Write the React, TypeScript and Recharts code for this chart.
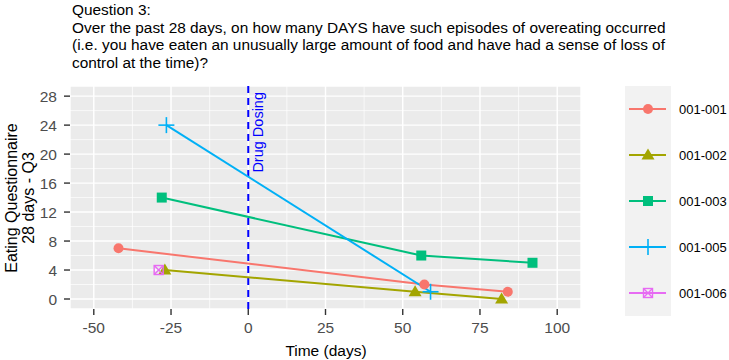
import React from 'react';
import { LineChart, Line, XAxis, YAxis, CartesianGrid, ReferenceLine } from 'recharts';

const titleLines = [
  'Question 3:',
  'Over the past 28 days, on how many DAYS have such episodes of overeating occurred',
  '(i.e. you have eaten an unusually large amount of food and have had a sense of loss of',
  'control at the time)?',
];
const yTitleLines = ['Eating Questionnaire', '28 days - Q3'];
const xTitle = 'Time (days)';
const dosingLabel = 'Drug Dosing';

const xTicks = [-50, -25, 0, 25, 50, 75, 100];
const xMinor = [-37.5, -12.5, 12.5, 37.5, 62.5, 87.5];
const yTicks = [0, 4, 8, 12, 16, 20, 24, 28];
const yMinor = [2, 6, 10, 14, 18, 22, 26];
const xDomain = [-57.7, 107.7];
const yDomain = [-1.38, 29.4];

const s001 = [{ x: -42, y: 7 }, { x: 57, y: 2 }, { x: 84, y: 1 }];
const s002 = [{ x: -27, y: 4 }, { x: 54, y: 1 }, { x: 82, y: 0 }];
const s003 = [{ x: -28, y: 14 }, { x: 56, y: 6 }, { x: 92, y: 5 }];
const s005 = [{ x: -26.5, y: 24 }, { x: 59, y: 1 }];
const s006 = [{ x: -29, y: 4 }];

const series = [
  { name: '001-001', data: s001, color: '#F8766D', shape: 'circle' },
  { name: '001-002', data: s002, color: '#A3A500', shape: 'triangle' },
  { name: '001-003', data: s003, color: '#00BF7D', shape: 'square' },
  { name: '001-005', data: s005, color: '#00B0F6', shape: 'plus' },
  { name: '001-006', data: s006, color: '#E76BF3', shape: 'squarecross' },
];

const FONT = '"Liberation Sans", Arial, sans-serif';

function Marker({ cx, cy, shape, color }: any) {
  if (cx == null || cy == null) return null;
  switch (shape) {
    case 'circle':
      return <circle cx={cx} cy={cy} r={5} fill={color} />;
    case 'triangle':
      return <polygon points={`${cx},${cy - 6.5} ${cx - 6.5},${cy + 4.5} ${cx + 6.5},${cy + 4.5}`} fill={color} />;
    case 'square':
      return <rect x={cx - 5} y={cy - 5} width={10} height={10} fill={color} />;
    case 'plus':
      return (
        <g stroke={color} strokeWidth={1.6}>
          <line x1={cx - 8} y1={cy} x2={cx + 8} y2={cy} />
          <line x1={cx} y1={cy - 8} x2={cx} y2={cy + 8} />
        </g>
      );
    case 'squarecross':
      return (
        <g stroke={color} strokeWidth={1.4} fill="none">
          <rect x={cx - 4.5} y={cy - 4.5} width={9} height={9} />
          <line x1={cx - 4.5} y1={cy - 4.5} x2={cx + 4.5} y2={cy + 4.5} />
          <line x1={cx - 4.5} y1={cy + 4.5} x2={cx + 4.5} y2={cy - 4.5} />
        </g>
      );
    default:
      return null;
  }
}

const DosingLabel = ({ viewBox }: any) => {
  const { x, y } = viewBox;
  const tx = x + 10;
  const ty = y + 6;
  return (
    <text
      x={tx}
      y={ty}
      transform={`rotate(-90, ${tx}, ${ty})`}
      textAnchor="end"
      dominantBaseline="central"
      fill="#0000FF"
      fontSize={14.5}
      fontFamily={FONT}
    >
      {dosingLabel}
    </text>
  );
};

export default function App() {
  return (
    <div style={{ position: 'fixed', left: 0, top: 0, width: 729, height: 360, background: '#fff', fontFamily: FONT }}>
      <div style={{ position: 'absolute', left: 72, top: 1, fontSize: 15.4, lineHeight: '17.6px', color: '#000', whiteSpace: 'nowrap' }}>
        {titleLines.map((t, i) => (
          <div key={i}>{t}</div>
        ))}
      </div>
      <div style={{ position: 'absolute', left: 0, top: 0 }}>
        <LineChart width={729} height={360} margin={{ top: 86, right: 148, bottom: 21, left: 30 }}>
          <CartesianGrid fill="#EBEBEB" stroke="#FFFFFF" strokeWidth={1.4} />
          {xMinor.map((v) => (
            <ReferenceLine key={'xm' + v} x={v} stroke="#FFFFFF" strokeWidth={0.7} />
          ))}
          {yMinor.map((v) => (
            <ReferenceLine key={'ym' + v} y={v} stroke="#FFFFFF" strokeWidth={0.7} />
          ))}
          <XAxis
            type="number"
            dataKey="x"
            domain={xDomain}
            ticks={xTicks}
            allowDataOverflow
            height={30}
            axisLine={false}
            tickSize={6}
            tickLine={{ stroke: '#333333', strokeWidth: 1.4 }}
            tick={{ fill: '#4D4D4D', fontSize: 15.5, fontFamily: FONT }}
            tickMargin={7}
          />
          <YAxis
            type="number"
            dataKey="y"
            domain={yDomain}
            ticks={yTicks}
            allowDataOverflow
            width={40}
            axisLine={false}
            tickSize={6}
            tickLine={{ stroke: '#333333', strokeWidth: 1.4 }}
            tick={{ fill: '#4D4D4D', fontSize: 15.5, fontFamily: FONT }}
            tickMargin={7}
          />
          <ReferenceLine x={0} stroke="#0000FF" strokeWidth={2} strokeDasharray="7 5" label={<DosingLabel />} />
          {series.map((s) => (
            <Line
              key={s.name}
              data={s.data}
              dataKey="y"
              name={s.name}
              stroke={s.color}
              strokeWidth={2}
              isAnimationActive={false}
              dot={(p: any) => <Marker key={p.index} cx={p.cx} cy={p.cy} shape={s.shape} color={s.color} />}
              activeDot={false}
            />
          ))}
        </LineChart>
      </div>
      {/* Y axis title */}
      <div
        style={{
          position: 'absolute',
          left: 20,
          top: 198,
          transform: 'translate(-50%, -50%) rotate(-90deg)',
          fontSize: 16,
          lineHeight: '16.5px',
          textAlign: 'center',
          whiteSpace: 'nowrap',
          color: '#000',
        }}
      >
        {yTitleLines.map((t, i) => (
          <div key={i}>{t}</div>
        ))}
      </div>
      {/* X axis title */}
      <div style={{ position: 'absolute', left: 326, top: 342, transform: 'translateX(-50%)', fontSize: 15.5, whiteSpace: 'nowrap', color: '#000' }}>
        {xTitle}
      </div>
      {/* Legend */}
      <div style={{ position: 'absolute', left: 625, top: 86, width: 46, height: 230, background: '#F2F2F2' }} />
      <svg style={{ position: 'absolute', left: 0, top: 0 }} width={729} height={360}>
        {series.map((s, i) => {
          const cy = 109 + i * 46;
          return (
            <g key={s.name}>
              <line x1={629} y1={cy} x2={666} y2={cy} stroke={s.color} strokeWidth={2} />
              <Marker cx={648} cy={cy} shape={s.shape} color={s.color} />
              <text x={679} y={cy} dominantBaseline="central" fontSize={13} fontFamily={FONT} fill="#000">
                {s.name}
              </text>
            </g>
          );
        })}
      </svg>
    </div>
  );
}
